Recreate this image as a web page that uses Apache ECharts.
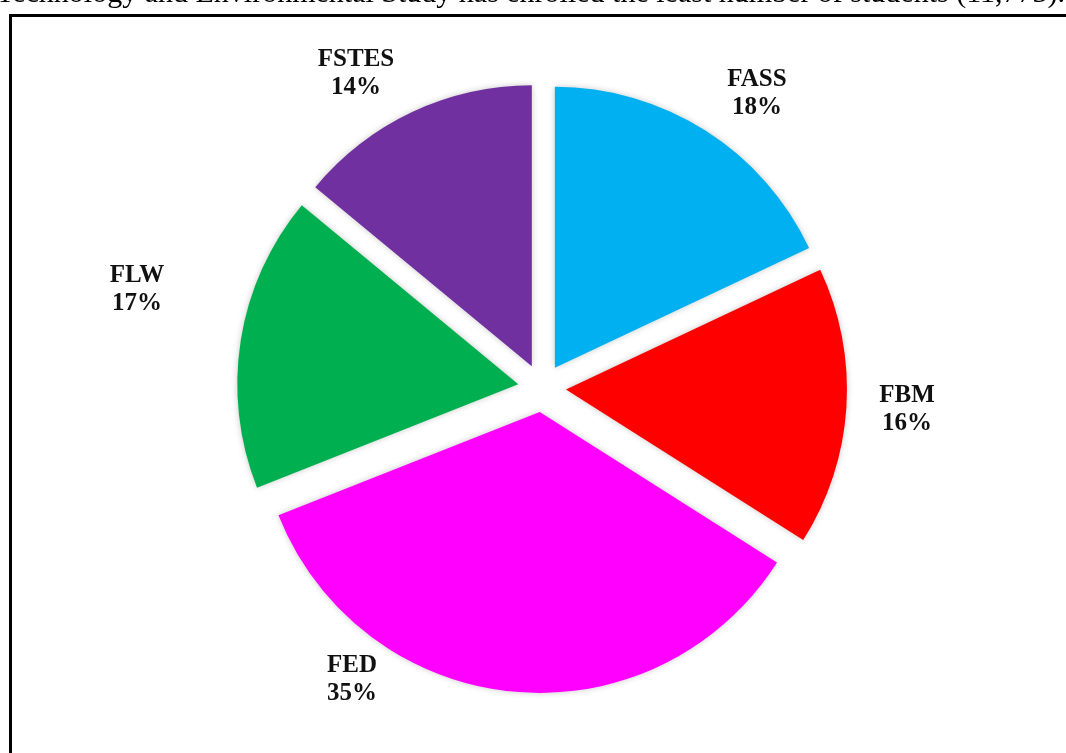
<!DOCTYPE html>
<html>
<head>
<meta charset="utf-8">
<style>
  html, body { margin: 0; padding: 0; background: #ffffff; }
  #chart { width: 1066px; height: 753px; }
</style>
<script src="https://cdn.jsdelivr.net/npm/echarts@6/dist/echarts.min.js"></script>
</head>
<body>
<div id="chart"></div>
<script>
// Share of enrolled students by faculty (percent)
const faculties = ['FASS', 'FBM', 'FED', 'FLW', 'FSTES'];
const shares = [18, 16, 35, 17, 14];
const sliceColors = ['#00B0F0', '#FF0000', '#FF00FF', '#00B050', '#7030A0'];

// Caption line sitting above the figure frame
const captionText = 'Technology and Environmental Study has enrolled the least number of students (11,773).';

// Pie geometry and label anchors (offsets from the pie centre)
const pieCenter = [542, 388];
const pieRadius = 281;
const labelOffsets = [[215, -294], [365, 22], [-190, 292], [-405, -98], [-186, -314]];

const labelFont = 'bold 25px "Liberation Serif", "Times New Roman", serif';

// Two-line faculty labels: name over percentage
const sliceLabels = faculties.map((name, i) => ({
  type: 'text',
  silent: true,
  x: pieCenter[0] + labelOffsets[i][0],
  y: pieCenter[1] + labelOffsets[i][1],
  style: {
    text: name + '\n' + shares[i] + '%',
    font: labelFont,
    lineHeight: 28,
    fill: '#111111',
    textAlign: 'center',
    textVerticalAlign: 'middle'
  }
}));

const chart = echarts.init(document.getElementById('chart'), null, { renderer: 'canvas' });

chart.setOption({
  animation: false,
  backgroundColor: '#ffffff',
  graphic: [
    {
      type: 'text',
      silent: true,
      x: -4,
      y: -6,
      style: {
        text: captionText,
        font: '30px "Liberation Serif", "Times New Roman", serif',
        fill: '#000000',
        textAlign: 'left',
        textVerticalAlign: 'middle'
      }
    },
    {
      type: 'rect',
      silent: true,
      shape: { x: 10.5, y: 15.5, width: 1200, height: 900 },
      style: { fill: 'none', stroke: '#000000', lineWidth: 3 }
    }
  ].concat(sliceLabels),
  series: [
    {
      type: 'pie',
      center: pieCenter,
      radius: pieRadius,
      startAngle: 90,
      clockwise: true,
      selectedMode: 'multiple',
      selectedOffset: 24,
      emphasis: { disabled: true },
      itemStyle: {
        borderWidth: 0,
        shadowBlur: 6,
        shadowColor: 'rgba(0,0,0,0.22)'
      },
      label: { show: false },
      labelLine: { show: false },
      data: faculties.map((name, i) => ({
        name: name,
        value: shares[i],
        selected: true,
        itemStyle: { color: sliceColors[i] }
      }))
    }
  ]
});
</script>
</body>
</html>
